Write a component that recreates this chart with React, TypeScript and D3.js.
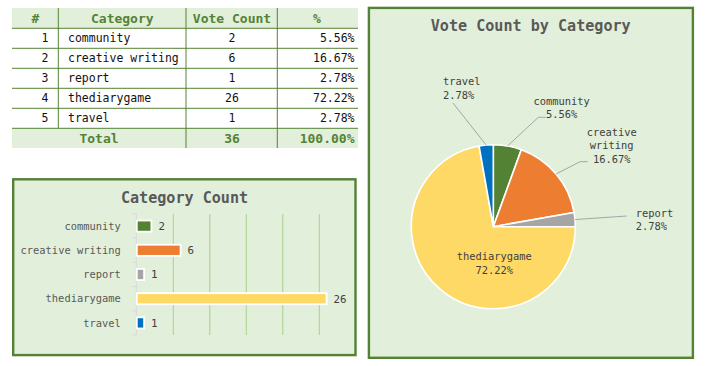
import React from "react";
import * as d3 from "d3";

const categories = ["community", "creative writing", "report", "thediarygame", "travel"];
const votes = [2, 6, 1, 26, 1];
const percents = ["5.56%", "16.67%", "2.78%", "72.22%", "2.78%"];
const totalVotes = 36;
const totalPercent = "100.00%";
const xTicks = [5, 10, 15, 20, 25];

const sliceColors = ["#548235", "#ED7D31", "#A5A5A5", "#FFD966", "#0070C0"];

// label placement (relative to pie centre) for the pie chart
const pieLabelLayout: Record<string, { anchor: string; dx: number; dy: number; lines: string[]; leader: [number, number][] }> = {
  travel: { anchor: "start", dx: -50.3, dy: -145, lines: ["travel"], leader: [[-40.3, -123.7]] },
  community: { anchor: "middle", dx: 68.4, dy: -125.7, lines: ["community"], leader: [[52.4, -109.4], [45, -109.4]] },
  "creative writing": { anchor: "middle", dx: 118.4, dy: -94.4, lines: ["creative", "writing"], leader: [[94.4, -65], [86.7, -65]] },
  report: { anchor: "start", dx: 142.4, dy: -13.4, lines: ["report"], leader: [[133.4, -10.7]] },
  thediarygame: { anchor: "middle", dx: 1, dy: 30, lines: ["thediarygame"], leader: [] },
};

const FONT = "'DejaVu Sans Mono', monospace";
const GREEN = "#548235";
const PANEL_BG = "#E2EFDA";

function Table() {
  const left = 12, right = 358, top = 8, rowH = 20;
  const colX = [12, 58.3, 186, 277.3, 358];
  const nRows = categories.length;
  const bottom = top + rowH * (nRows + 2);
  return (
    <g>
      <rect x={left} y={top} width={right - left} height={rowH} fill={PANEL_BG} />
      <rect x={left} y={top + rowH * (nRows + 1)} width={right - left} height={rowH} fill={PANEL_BG} />
      {d3.range(1, nRows + 2).map((i) => (
        <line key={"h" + i} x1={left} x2={right} y1={top + rowH * i + 0.3} y2={top + rowH * i + 0.3} stroke={GREEN} strokeWidth={1} />
      ))}
      <line x1={colX[1]} x2={colX[1]} y1={top} y2={top + rowH * (nRows + 1)} stroke={GREEN} strokeWidth={1} />
      <line x1={colX[2]} x2={colX[2]} y1={top} y2={bottom} stroke={GREEN} strokeWidth={1} />
      <line x1={colX[3]} x2={colX[3]} y1={top} y2={bottom} stroke={GREEN} strokeWidth={1} />
      <g fontFamily={FONT} fontWeight="bold" fontSize={13} fill={GREEN} textAnchor="middle">
        <text x={35.5} y={top + rowH / 2} dy="0.36em">#</text>
        <text x={122.3} y={top + rowH / 2} dy="0.36em">Category</text>
        <text x={232} y={top + rowH / 2} dy="0.36em">Vote Count</text>
        <text x={317} y={top + rowH / 2} dy="0.36em">%</text>
      </g>
      <g fontFamily={FONT} fontSize={11.5} fill="#111">
        {categories.map((c, i) => {
          const cy = top + rowH * (i + 1) + rowH / 2 + 0.3;
          return (
            <g key={c}>
              <text x={48.5} y={cy} dy="0.36em" textAnchor="end">{i + 1}</text>
              <text x={68} y={cy} dy="0.36em">{c}</text>
              <text x={232} y={cy} dy="0.36em" textAnchor="middle">{votes[i]}</text>
              <text x={354.5} y={cy} dy="0.36em" textAnchor="end">{percents[i]}</text>
            </g>
          );
        })}
      </g>
      <g fontFamily={FONT} fontWeight="bold" fontSize={13} fill={GREEN}>
        <text x={99} y={top + rowH * (nRows + 1) + rowH / 2} dy="0.36em" textAnchor="middle">Total</text>
        <text x={232} y={top + rowH * (nRows + 1) + rowH / 2} dy="0.36em" textAnchor="middle">{totalVotes}</text>
        <text x={354.5} y={top + rowH * (nRows + 1) + rowH / 2} dy="0.36em" textAnchor="end">{totalPercent}</text>
      </g>
    </g>
  );
}

function BarChart() {
  const x = d3.scaleLinear().domain([0, 26]).range([136.8, 326.6]);
  const y = d3.scaleBand<string>().domain(categories).range([214, 335]).paddingInner(0.54).paddingOuter(0.27);
  const yStep = d3.scaleBand<string>().domain(categories).range([214, 335]);
  const boundaries = [...categories.map((c) => yStep(c) as number), 335];
  return (
    <g>
      <rect x={13.2} y={179.3} width={342.3} height={175.8} fill={PANEL_BG} stroke={GREEN} strokeWidth={2.4} />
      <text x={184.5} y={197.7} dy="0.36em" textAnchor="middle" fontFamily={FONT} fontWeight="bold" fontSize={15.1} fill="#595959">
        Category Count
      </text>
      {xTicks.map((t) => (
        <line key={t} x1={x(t)} x2={x(t)} y1={214} y2={335} stroke="#A9D18E" strokeWidth={1} />
      ))}
      <line x1={x(0) - 0.5} x2={x(0) - 0.5} y1={214} y2={335} stroke="#D9D9D9" strokeWidth={1} />
      {boundaries.map((b, i) => (
        <line key={i} x1={x(0) - 4.5} x2={x(0)} y1={b} y2={b} stroke="#D9D9D9" strokeWidth={1} />
      ))}
      {categories.map((c, i) => {
        const by = y(c) as number;
        const bh = y.bandwidth();
        const cy = (yStep(c) as number) + yStep.bandwidth() / 2;
        return (
          <g key={c}>
            <rect x={x(0)} y={by} width={x(votes[i]) - x(0)} height={bh} fill={sliceColors[i]} stroke="#fff" strokeWidth={1.8} />
            <text x={120.7} y={cy} dy="0.36em" textAnchor="end" fontFamily={FONT} fontSize={10.4} fill="#595959">{c}</text>
            <text x={x(votes[i]) + 7} y={cy} dy="0.36em" fontFamily={FONT} fontSize={10.8} fill="#404040">{votes[i]}</text>
          </g>
        );
      })}
    </g>
  );
}

function PieChart() {
  const cx = 493.3, cy = 226.7, r = 82;
  const pie = d3.pie<number>().sort(null).value((d) => d);
  const arcs = pie(votes);
  const arc = d3.arc<d3.PieArcDatum<number>>().innerRadius(0).outerRadius(r);
  const lineH = 13.3;
  return (
    <g>
      <rect x={368.9} y={7.9} width={324} height={349.9} fill={PANEL_BG} stroke={GREEN} strokeWidth={2.4} />
      <text x={530.7} y={26} dy="0.36em" textAnchor="middle" fontFamily={FONT} fontWeight="bold" fontSize={15.1} fill="#595959">
        Vote Count by Category
      </text>
      <g transform={`translate(${cx},${cy})`}>
        {arcs.map((a, i) => (
          <path key={categories[i]} d={arc(a) || ""} fill={sliceColors[i]} stroke="#fff" strokeWidth={1.6} />
        ))}
        {arcs.map((a, i) => {
          const lay = pieLabelLayout[categories[i]];
          const mid = (a.startAngle + a.endAngle) / 2;
          const edge: [number, number] = [Math.sin(mid) * r, -Math.cos(mid) * r];
          const lines = [...lay.lines, percents[i]];
          return (
            <g key={"l" + i}>
              {lay.leader.length > 0 && (
                <path d={d3.line()([...lay.leader, edge]) || ""} fill="none" stroke="#A6A6A6" strokeWidth={1} />
              )}
              <text textAnchor={lay.anchor} fontFamily={FONT} fontSize={10.4} fill="#404040">
                {lines.map((ln, j) => (
                  <tspan key={j} x={lay.dx} y={lay.dy + j * lineH} dy="0.36em">{ln}</tspan>
                ))}
              </text>
            </g>
          );
        })}
      </g>
    </g>
  );
}

export default function App() {
  return (
    <svg width={705} height={366} style={{ position: "absolute", left: 0, top: 0, background: "#fff" }}>
      <Table />
      <BarChart />
      <PieChart />
    </svg>
  );
}
